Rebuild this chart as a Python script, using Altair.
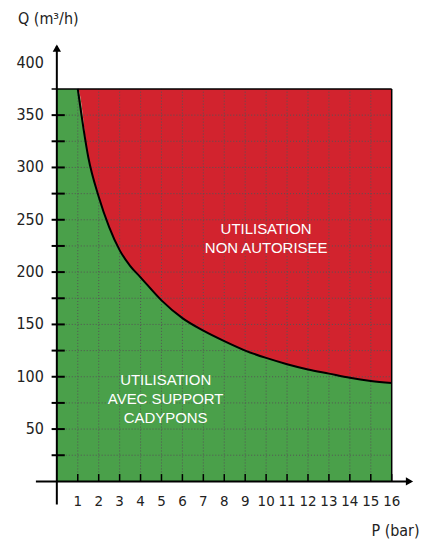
import altair as alt
import pandas as pd

# Boundary curve (P in bar, Q in m3/h)
P_curve = [1, 1.5, 2, 2.5, 3, 3.5, 4, 5, 6, 7, 8, 9, 10, 11, 12, 13, 14, 15, 16]
Q_curve = [375, 310, 272, 243, 221, 206, 195, 173, 156, 144, 134, 125, 118, 112, 107, 103, 99, 96, 94]
Q_MAX = 375
P_MAX = 16

x_ticks = list(range(1, 17))
y_labels = [50, 100, 150, 200, 250, 300, 350, 400]
y_ticks = [25, 50, 75, 100, 125, 150, 175, 200, 225, 250, 275, 300, 325, 350]
x_grid = list(range(1, 16))
y_grid = [25, 50, 75, 100, 125, 150, 175, 200, 225, 250, 275, 300, 325, 350]

GREEN = "#4aa04a"
RED = "#d2232e"
FONT_N = "Liberation Sans Narrow, DejaVu Sans Condensed, sans-serif"
FONT = "Liberation Sans, Arial, sans-serif"

xs = alt.Scale(domain=[-1, 17.4], nice=False, zero=False)
ys = alt.Scale(domain=[-22, 422], nice=False, zero=False)

def X(f="P"):
    return alt.X(f, type="quantitative", scale=xs, axis=None)

def Y(f="Q"):
    return alt.Y(f, type="quantitative", scale=ys, axis=None)

area_df = pd.DataFrame({"P": [0] + P_curve, "Q": [Q_MAX] + Q_curve})
curve_df = pd.DataFrame({"P": P_curve, "Q": Q_curve})

green = alt.Chart(area_df).mark_area(color=GREEN, opacity=1, interpolate="monotone").encode(
    x=X(), y=Y(), y2=alt.Y2(datum=0)
)
red = alt.Chart(area_df).mark_area(color=RED, opacity=1, interpolate="monotone").encode(
    x=X(), y=Y(), y2=alt.Y2(datum=Q_MAX)
)

vgrid = alt.Chart(pd.DataFrame({"P": x_grid})).mark_rule(
    color="#555555", strokeDash=[1, 2], strokeWidth=1
).encode(x=X(), y=alt.Y(datum=0, scale=ys, axis=None), y2=alt.Y2(datum=Q_MAX))
hgrid = alt.Chart(pd.DataFrame({"Q": y_grid})).mark_rule(
    color="#555555", strokeDash=[1, 2], strokeWidth=1
).encode(y=Y(), x=alt.X(datum=0, scale=xs, axis=None), x2=alt.X2(datum=P_MAX))

curve = alt.Chart(curve_df).mark_line(color="black", strokeWidth=2, interpolate="monotone").encode(x=X(), y=Y())

# border (top and right)
border_df = pd.DataFrame({"x": [-0.25, P_MAX], "x2": [P_MAX, P_MAX], "y": [Q_MAX, 0], "y2": [Q_MAX, Q_MAX]})
border = alt.Chart(border_df).mark_rule(color="black", strokeWidth=1.5).encode(
    x=X("x"), x2="x2", y=Y("y"), y2="y2"
)

# axes lines
axes_df = pd.DataFrame({"x": [-1, 0], "x2": [16.9, 0], "y": [0, -22], "y2": [0, 416]})
axes = alt.Chart(axes_df).mark_rule(color="black", strokeWidth=2).encode(
    x=X("x"), x2="x2", y=Y("y"), y2="y2"
)
arrow_up = alt.Chart(pd.DataFrame({"P": [0], "Q": [414]})).mark_point(
    shape="triangle-up", filled=True, color="black", size=70, opacity=1
).encode(x=X(), y=Y())
arrow_right = alt.Chart(pd.DataFrame({"P": [16.85], "Q": [0]})).mark_point(
    shape="triangle-right", filled=True, color="black", size=70, opacity=1
).encode(x=X(), y=Y())

# ticks
xt = alt.Chart(pd.DataFrame({"P": x_ticks})).mark_rule(color="black", strokeWidth=1.5).encode(
    x=X(), y=alt.Y(datum=0, scale=ys, axis=None), y2=alt.Y2(datum=7)
)
yt = alt.Chart(pd.DataFrame({"Q": y_ticks})).mark_rule(color="black", strokeWidth=2).encode(
    y=Y(), x=alt.X(datum=-0.25, scale=xs, axis=None), x2=alt.X2(datum=0.38)
)

# tick labels
xl = alt.Chart(pd.DataFrame({"P": x_ticks})).mark_text(
    font=FONT_N, fontSize=15, color="#222222", baseline="middle", align="center", dy=20
).encode(x=X(), y=alt.Y(datum=0, scale=ys, axis=None), text=alt.Text("P:Q"))
yl = alt.Chart(pd.DataFrame({"Q": y_labels})).mark_text(
    font=FONT_N, fontSize=16, color="#222222", baseline="middle", align="right", dx=-13
).encode(y=Y(), x=alt.X(datum=0, scale=xs, axis=None), text=alt.Text("Q:Q"))

# axis titles
qtitle = alt.Chart(pd.DataFrame({"t": ["Q (m³/h)"]})).mark_text(
    font=FONT_N, fontSize=16, color="#222222", align="left", baseline="middle"
).encode(x=alt.value(-18), y=alt.value(-21), text="t")
ptitle = alt.Chart(pd.DataFrame({"t": ["P (bar)"]})).mark_text(
    font=FONT_N, fontSize=16, color="#222222", align="right", baseline="middle"
).encode(x=alt.value(385), y=alt.value(493), text="t")

# region labels
reg_df = pd.DataFrame({
    "P": [10.0, 10.0, 5.2, 5.2, 5.2],
    "Q": [241, 223, 97, 79, 61],
    "t": ["UTILISATION", "NON AUTORISEE", "UTILISATION", "AVEC SUPPORT", "CADYPONS"],
})
regions = alt.Chart(reg_df).mark_text(
    font=FONT, fontSize=15, color="white", align="center", baseline="middle"
).encode(x=X(), y=Y(), text="t")

chart = alt.layer(
    green, red, vgrid, hgrid, curve, border, xt, yt, axes, arrow_up, arrow_right,
    xl, yl, qtitle, ptitle, regions
).properties(
    width=386.4,
    height=466.2,
    background="white",
    autosize=alt.AutoSizeParams(type="none"),
    padding={"left": 28, "top": 31, "right": 2, "bottom": 35},
).configure_view(strokeWidth=0, stroke="transparent")

chart.save("out.html", embed_options={"renderer": "svg", "actions": False})
